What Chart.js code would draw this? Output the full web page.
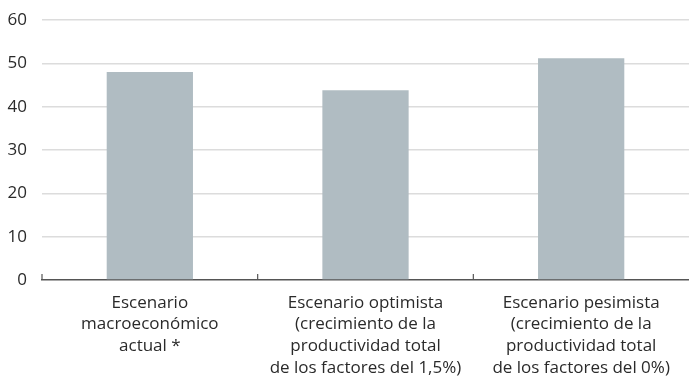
<!DOCTYPE html>
<html>
<head>
<meta charset="utf-8">
<script src="https://cdn.jsdelivr.net/npm/chart.js@4"></script>
<style>
  html, body { margin: 0; padding: 0; background: #fff; }
  #wrap { width: 689px; height: 378px; }
</style>
</head>
<body>
<div id="wrap"><canvas id="chart" width="689" height="378"></canvas></div>
<script>
const categories = [
    ["Escenario", "macroeconómico", "actual *"],
    ["Escenario optimista", "(crecimiento de la", "productividad total", "de los factores del 1,5%)"],
    ["Escenario pesimista", "(crecimiento de la", "productividad total", "de los factores del 0%)"]
];
const values = [48.0, 43.8, 51.2];
const yTicks = [0, 10, 20, 30, 40, 50, 60];

// small upward ticks on the x axis at the category boundaries
const boundaryTicks = {
    id: "boundaryTicks",
    afterDatasetsDraw(chart) {
        const x = chart.scales.x;
        const ctx = chart.ctx;
        const bottom = chart.chartArea.bottom;
        const step = x.getPixelForValue(1) - x.getPixelForValue(0);
        ctx.save();
        ctx.strokeStyle = "#555";
        ctx.lineWidth = 1.2;
        for (let i = 0; i < categories.length; i++) {
            const px = x.getPixelForValue(i) - step / 2;
            ctx.beginPath();
            ctx.moveTo(px, bottom);
            ctx.lineTo(px, bottom - 6);
            ctx.stroke();
        }
        ctx.restore();
    }
};

new Chart(document.getElementById("chart").getContext("2d"), {
    type: "bar",
    data: {
        labels: categories,
        datasets: [{
            data: values,
            backgroundColor: "#b0bcc2",
            borderWidth: 0,
            categoryPercentage: 1,
            barPercentage: 0.4
        }]
    },
    options: {
        responsive: false,
        animation: false,
        layout: { padding: { top: 20, right: 0, bottom: 0, left: 0 } },
        plugins: { legend: { display: false }, tooltip: { enabled: false } },
        scales: {
            x: {
                grid: { display: false },
                border: { display: true, color: "#555", width: 1.5 },
                ticks: {
                    color: "#2a2a2a",
                    padding: 4,
                    maxRotation: 0,
                    autoSkip: false,
                    font: { family: "Open Sans", size: 17, lineHeight: 1.28 }
                },
                afterFit(s) { s.height = 98; s.paddingLeft = 0; s.paddingRight = 0; }
            },
            y: {
                min: 0,
                max: 60,
                afterBuildTicks(s) { s.ticks = yTicks.map(v => ({ value: v })); },
                grid: {
                    drawTicks: false,
                    color: ctx => ctx.tick && ctx.tick.value === 0 ? "rgba(0,0,0,0)" : "#dcdcdc",
                    lineWidth: 1.5
                },
                border: { display: false },
                ticks: {
                    color: "#2a2a2a",
                    padding: 15,
                    font: { family: "Open Sans", size: 17 }
                },
                afterFit(s) { s.width = 42; s.paddingTop = 0; s.paddingBottom = 0; }
            }
        }
    },
    plugins: [boundaryTicks]
});
</script>
</body>
</html>
